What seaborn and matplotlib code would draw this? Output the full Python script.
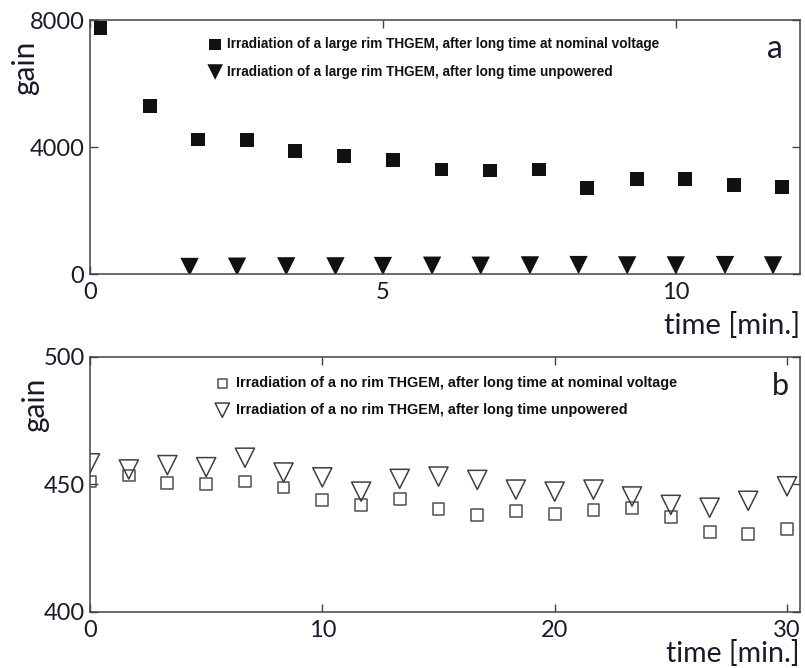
import numpy as np
import pandas as pd
import matplotlib
matplotlib.use("Agg")
import matplotlib.pyplot as plt
import seaborn as sns

# ---- data ----
a_time_nominal = [0.18, 1.02, 1.84, 2.68, 3.50, 4.34, 5.17, 6.00, 6.83, 7.66, 8.49, 9.33, 10.16, 10.99, 11.82]
a_gain_nominal = [7740, 5280, 4235, 4210, 3870, 3710, 3580, 3290, 3260, 3290, 2720, 2980, 2980, 2790, 2750]
a_time_unpowered = [1.70, 2.51, 3.35, 4.19, 5.00, 5.84, 6.67, 7.51, 8.34, 9.17, 10.00, 10.84, 11.66]
a_gain_unpowered = [220, 230, 240, 240, 250, 260, 260, 270, 280, 270, 270, 280, 270]

b_time = [0.0, 1.67, 3.33, 5.0, 6.67, 8.33, 10.0, 11.67, 13.33, 15.0, 16.67, 18.33, 20.0, 21.67, 23.33, 25.0, 26.67, 28.33, 30.0]
b_gain_nominal = [451.2, 453.5, 450.5, 450.3, 451.2, 448.8, 444.0, 442.0, 444.4, 440.4, 438.1, 439.6, 438.3, 440.0, 440.9, 437.4, 431.5, 430.6, 432.4]
b_gain_unpowered = [458.3, 455.9, 457.6, 456.8, 460.5, 454.7, 452.8, 447.2, 452.2, 453.1, 451.8, 448.0, 447.2, 448.0, 445.3, 442.0, 440.9, 443.6, 449.3]

labels_a = ["Irradiation of a large rim THGEM, after long time at nominal voltage",
            "Irradiation of a large rim THGEM, after long time unpowered"]
labels_b = ["Irradiation of a no rim THGEM, after long time at nominal voltage",
            "Irradiation of a no rim THGEM, after long time unpowered"]
a_yticks = [0, 4000, 8000]
a_xticks = [0, 5, 10]
b_yticks = [400, 450, 500]
b_xticks = [0, 10, 20, 30]

sns.set_theme(style="white")
plt.rcParams["font.family"] = ["Lato", "DejaVu Sans"]

W, H = 805, 668
fig = plt.figure(figsize=(W / 100, H / 100), dpi=100)

def frac(l, t, r, b):
    return [l / W, 1 - b / H, (r - l) / W, (b - t) / H]

ax1 = fig.add_axes(frac(90, 20, 800, 274))
ax2 = fig.add_axes(frac(90, 357, 800, 612))

TXT = "#1a1a2a"
SP = "#444444"

# Panel a
sns.scatterplot(x=a_time_nominal, y=a_gain_nominal, marker="s", s=100, color="#111111",
                edgecolor="none", linewidth=0, label=labels_a[0], ax=ax1)
sns.scatterplot(x=a_time_unpowered, y=a_gain_unpowered, marker="v", s=175, color="#111111",
                edgecolor="none", linewidth=0, label=labels_a[1], ax=ax1)
ax1.set_xlim(0, 12.12)
ax1.set_ylim(0, 8000)
ax1.set_xticks(a_xticks)
ax1.set_yticks(a_yticks)

# Panel b
sns.scatterplot(x=b_time, y=b_gain_nominal, marker="s", s=72, facecolor="none",
                edgecolor="#505050", linewidth=1.1, label=labels_b[0], ax=ax2)
sns.scatterplot(x=b_time, y=b_gain_unpowered, marker="v", s=190, facecolor="none",
                edgecolor="#404040", linewidth=1.1, label=labels_b[1], ax=ax2)
ax2.set_xlim(0, 30.56)
ax2.set_ylim(400, 500)
ax2.set_xticks(b_xticks)
ax2.set_yticks(b_yticks)

for ax in (ax1, ax2):
    for sp in ax.spines.values():
        sp.set_color(SP)
        sp.set_linewidth(1.1)
        sp.set_visible(True)
    ax.tick_params(direction="in", length=6, width=1, color=SP, top=True, right=True,
                   bottom=True, left=True, labelsize=17, labelcolor=TXT)
    ax.tick_params(axis="x", pad=6)
    ax.tick_params(axis="y", pad=4)
    ax.set_xlabel("")
    ax.set_ylabel("")

# axis labels as positioned texts
fig.text(25 / W, 1 - 68 / H, "gain", rotation=90, ha="center", va="center", fontsize=21.5, color=TXT)
fig.text(35 / W, 1 - 405 / H, "gain", rotation=90, ha="center", va="center", fontsize=21.5, color=TXT)
fig.text(800 / W, 1 - 326 / H, "time [min.]", ha="right", va="center", fontsize=21, color=TXT)
fig.text(800 / W, 1 - 654 / H, "time [min.]", ha="right", va="center", fontsize=20.5, color=TXT)
fig.text(775 / W, 1 - 49 / H, "a", ha="center", va="center", fontsize=23, color=TXT)
fig.text(780 / W, 1 - 386 / H, "b", ha="center", va="center", fontsize=22, color=TXT)

leg1 = ax1.legend(loc="upper left", bbox_to_anchor=(207 / W, 1 - 37 / H), bbox_transform=fig.transFigure,
                  frameon=False, handletextpad=0.3, labelspacing=1.0, markerscale=0.85,
                  prop={"family": "Liberation Sans", "weight": "bold", "size": 9.8}, borderaxespad=0,
                  borderpad=0, handlelength=1.2)
leg2 = ax2.legend(loc="upper left", bbox_to_anchor=(214 / W, 1 - 376 / H), bbox_transform=fig.transFigure,
                  frameon=False, handletextpad=0.4, labelspacing=0.9, markerscale=0.75,
                  prop={"family": "Liberation Sans", "weight": "bold", "size": 10.4}, borderaxespad=0,
                  borderpad=0, handlelength=1.15)
for t in leg1.get_texts() + leg2.get_texts():
    t.set_color("#111111")

fig.savefig("out.png", dpi=100)
